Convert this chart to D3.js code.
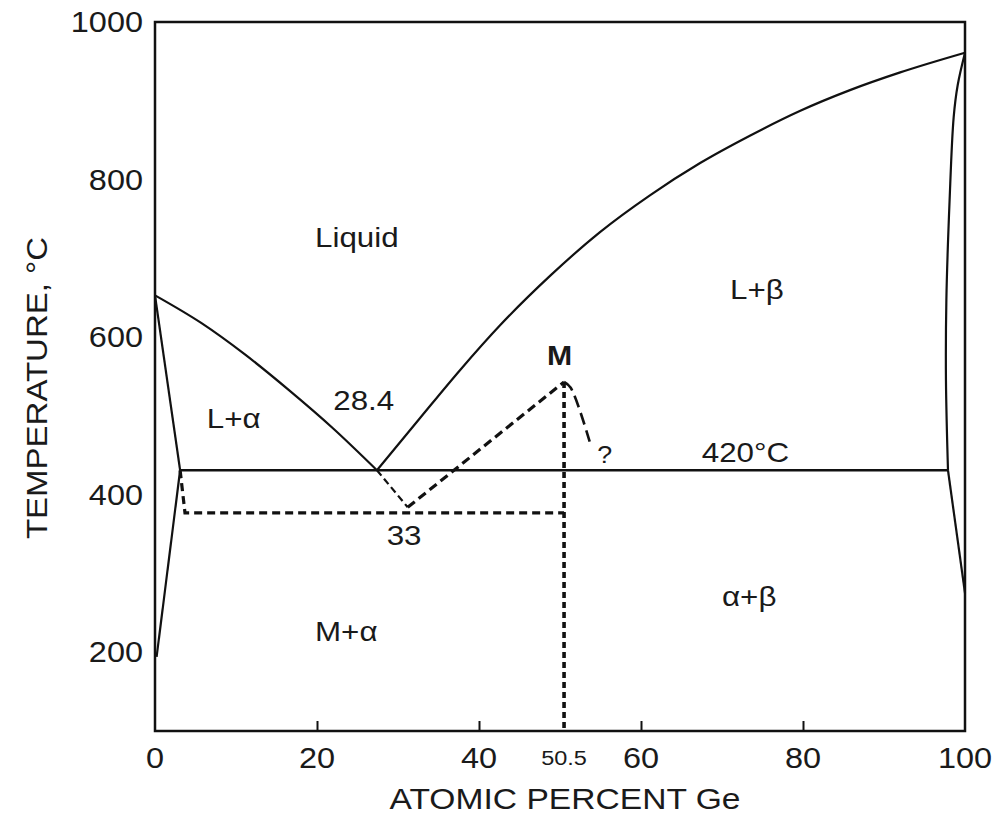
<!DOCTYPE html>
<html>
<head>
<meta charset="utf-8">
<script src="https://cdn.jsdelivr.net/npm/d3@7"></script>
<style>
  html, body { margin: 0; padding: 0; background: #fff; }
  svg { display: block; }
  text { font-family: "Liberation Sans", Arial, Helvetica, sans-serif; fill: #1a1a1a; }
</style>
</head>
<body>
<svg id="chart" width="1004" height="818"></svg>
<script>
// ---------- data ----------
const xTickValues = [0, 20, 40, 60, 80, 100];
const xMinorTicks = [20, 40, 60, 80];
const yTickValues = [200, 400, 600, 800, 1000];
const xSpecialTick = 50.5;

// solid phase boundaries [at.% Ge, °C]
const liquidusLeft  = [[0,653],[5.7,618],[11.1,578],[16.5,533],[22,484],[27.4,431]];
const liquidusRight = [[27.4,431],[32.7,497],[37.65,558],[42.6,615],[48.8,678],[54.9,733],[61.1,780],[67.3,821],[73.5,856],[79.6,887],[85.8,913.5],[92,936],[100,961]];
const solidusLeft   = [[0,653],[3.1,431]];
const solvusLeft    = [[3.1,431],[0.2,194]];
const solidusRight  = [[97.9,431],[97.65,545],[97.7,647],[98.1,774],[98.6,879],[99.1,920],[100,961]];
const solvusRight   = [[97.9,431],[100,275]];
const eutecticLine  = [[3.1,431],[97.9,431]];

// metastable (dashed) boundaries
const metaLiquidusLow  = [[27.4,431],[31.2,384]];
const metaLiquidusHigh = [[31.2,384],[50.5,543]];
const metaPeakRight    = [[50.5,543],[51.3,536],[53.7,466]];
const metaEutectic     = [[3.1,431],[3.7,377],[50.5,377]];
const metaCompound     = [[50.5,543],[50.5,100]];

// annotations: text with anchor in data units
const annotationTexts = ["Liquid","L+β","L+α","28.4","M","?","420°C","33","α+β","M+α"];
const annotationX     = [19.75, 71, 6.4, 22, 48.4, 54.6, 67.5, 28.6, 70, 19.75];
const annotationT     = [714, 648, 485, 507, 565, 440, 441, 336, 259, 214];

// ---------- drawing ----------
const svg = d3.select("#chart");
const x = d3.scaleLinear().domain([0, 100]).range([155, 965]);
const y = d3.scaleLinear().domain([100, 1000]).range([731, 22]);
const SX = 1.12; // horizontal glyph stretch of the scanned lettering

const line = d3.line().x(d => x(d[0])).y(d => y(d[1]));
const curveX = d3.line().x(d => x(d[0])).y(d => y(d[1])).curve(d3.curveMonotoneX);
const curveCR = d3.line().x(d => x(d[0])).y(d => y(d[1])).curve(d3.curveCatmullRom.alpha(0.5));

// frame
svg.append("rect")
  .attr("x", x(0)).attr("y", y(1000))
  .attr("width", x(100) - x(0)).attr("height", y(100) - y(1000))
  .attr("fill", "none").attr("stroke", "#111").attr("stroke-width", 2.5);

// bottom axis ticks (inward)
const xAxis = d3.axisBottom(x).tickValues(xMinorTicks).tickSize(-10).tickFormat("");
const gx = svg.append("g").attr("transform", `translate(0,${y(100)})`).call(xAxis);
gx.select(".domain").remove();
gx.selectAll(".tick line").attr("stroke", "#111").attr("stroke-width", 2);

// tick labels
function stretchedText(sel, px, py, txt, size, anchor, weight) {
  return sel.append("text")
    .attr("transform", `translate(${px},${py}) scale(${SX},1)`)
    .attr("text-anchor", anchor || "start")
    .attr("font-size", size)
    .attr("font-weight", weight || "normal")
    .text(txt);
}
const labels = svg.append("g");
xTickValues.forEach(v => stretchedText(labels, x(v), 768, String(v), 29, "middle"));
stretchedText(labels, x(xSpecialTick), 765, String(xSpecialTick), 21, "middle");
yTickValues.forEach(v => {
  stretchedText(labels, 143, y(v) + 10, String(v), 29, "end");
});

// axis titles
stretchedText(labels, 565, 809, "ATOMIC PERCENT Ge", 30, "middle");
labels.append("text")
  .attr("transform", `translate(47,388) rotate(-90) scale(1.1,1)`)
  .attr("text-anchor", "middle").attr("font-size", 30)
  .text("TEMPERATURE, °C");

// solid lines
const solid = svg.append("g").attr("fill", "none").attr("stroke", "#111").attr("stroke-width", 2.2)
  .attr("stroke-linejoin", "round");
solid.append("path").attr("d", curveX(liquidusLeft));
solid.append("path").attr("d", curveX(liquidusRight));
solid.append("path").attr("d", curveCR(solidusRight));
[solidusLeft, solvusLeft, solvusRight].forEach(d => solid.append("path").attr("d", line(d)));
solid.append("path").attr("d", line(eutecticLine)).attr("stroke-width", 2.5);

// dashed lines
const dashed = svg.append("g").attr("fill", "none").attr("stroke", "#111");
dashed.append("path").attr("d", line(metaLiquidusLow)).attr("stroke-width", 2.2).attr("stroke-dasharray", "7,4");
dashed.append("path").attr("d", line(metaLiquidusHigh)).attr("stroke-width", 3.2).attr("stroke-dasharray", "9,5");
dashed.append("path").attr("d", curveCR(metaPeakRight)).attr("stroke-width", 2.6).attr("stroke-dasharray", "12,6");
dashed.append("path").attr("d", line(metaEutectic)).attr("stroke-width", 3.2).attr("stroke-dasharray", "8,5");
dashed.append("path").attr("d", line(metaCompound)).attr("stroke-width", 3.6).attr("stroke-dasharray", "6,4");

// annotations
const ann = svg.append("g");
annotationTexts.forEach((t, i) => {
  const isM = t === "M";
  const isQ = t === "?";
  stretchedText(ann, x(annotationX[i]), y(annotationT[i]), t, isM ? 27 : (isQ ? 24 : 28), "start", isM ? "bold" : "normal");
});
</script>
</body>
</html>
